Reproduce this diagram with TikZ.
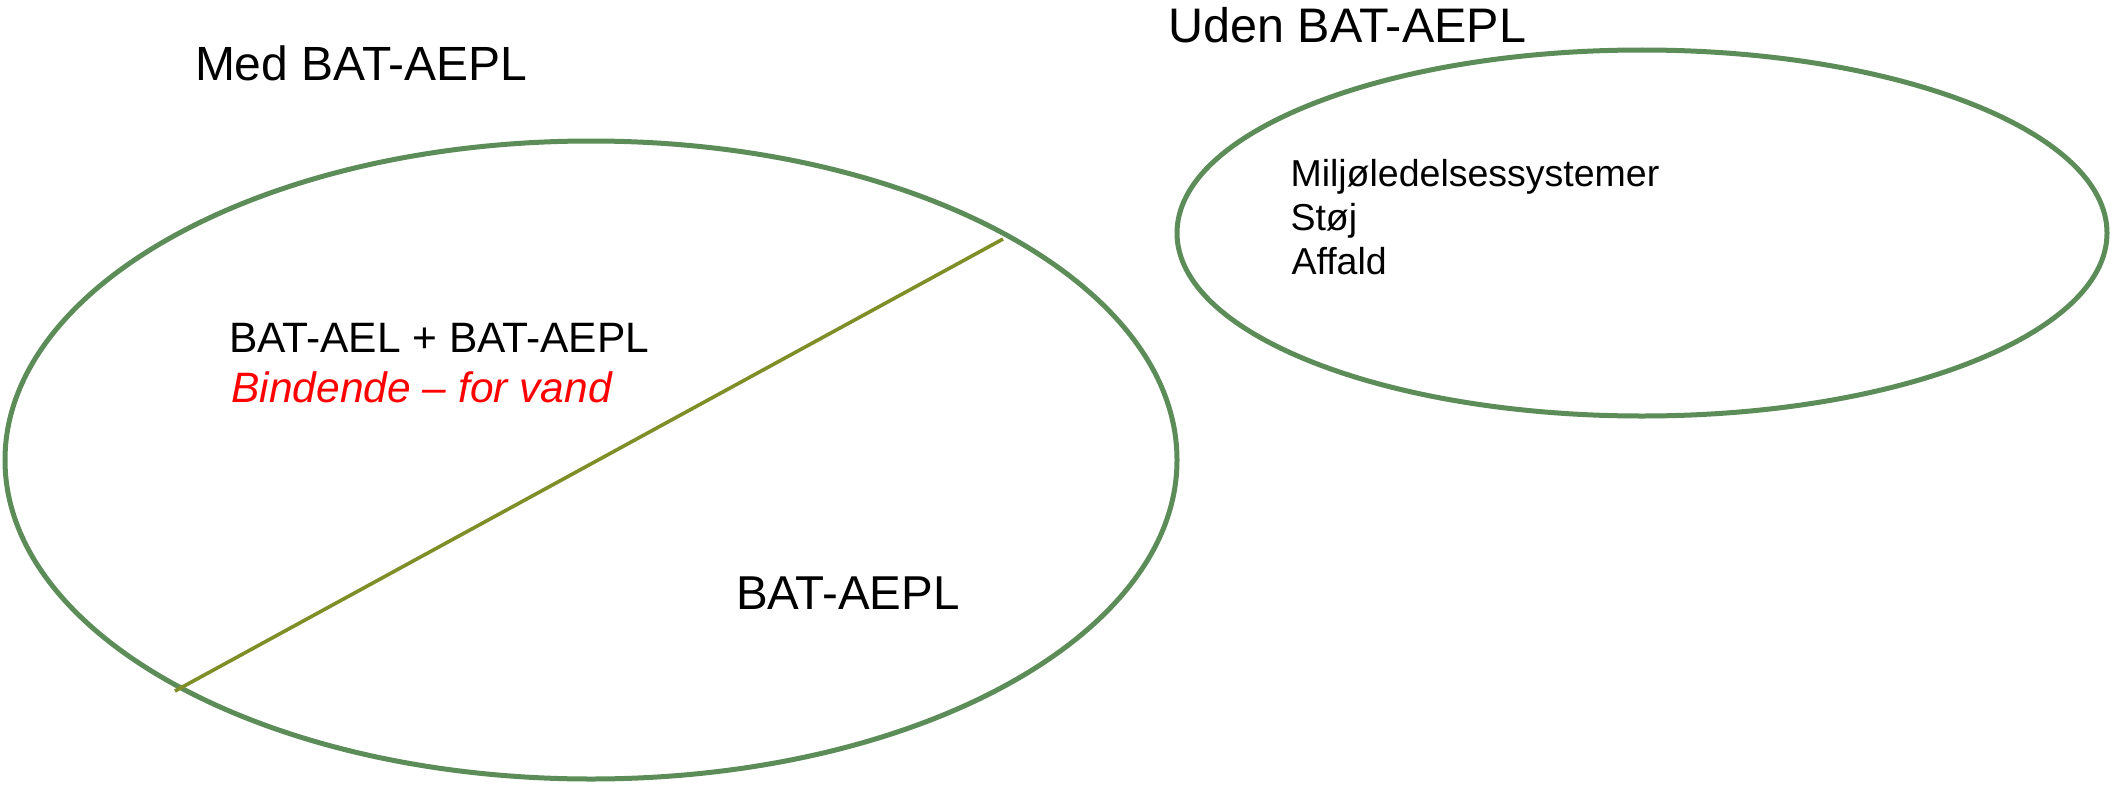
\documentclass[tikz,border=0pt]{standalone}
\usepackage{fontspec}
\setmainfont{Liberation Sans}
\usetikzlibrary{shapes.geometric}
\definecolor{ellgreen}{RGB}{92,140,88}
\definecolor{diagolive}{RGB}{128,142,40}
\begin{document}
\begin{tikzpicture}[x=1pt,y=-1pt,
  ring/.style={ellipse, draw=ellgreen, line width=5pt, inner sep=0pt, outer sep=0pt},
  divider/.style={draw=diagolive, line width=3.6pt},
  lbl/.style={anchor=base west, inner sep=0pt, outer sep=0pt, text=black},
  big/.style={lbl, font=\fontsize{48}{56}\selectfont},
  mid/.style={lbl, font=\fontsize{42.5}{50}\selectfont},
  small/.style={lbl, font=\fontsize{37.5}{44}\selectfont}]
\useasboundingbox (0,0) rectangle (2111,784);
\node[ring, minimum width=1172pt, minimum height=638pt] (withE) at (591,460) {};
\node[ring, minimum width=930pt, minimum height=366pt] (withoutE) at (1642,233) {};
\coordinate (dA) at (175,691);
\coordinate (dB) at (1003,239);
\draw[divider] (dA) -- (dB);
\node[big] (med) at (195,81) {Med BAT-AEPL};
\node[big, font=\fontsize{48.5}{56}\selectfont] (uden) at (1168.5,42.5) {Uden BAT-AEPL};
\node[mid] (ael) at (229,352.5) {BAT-AEL + BAT-AEPL};
\node[mid, text=red, font=\fontsize{42.5}{50}\selectfont\itshape] (bind) at (231.5,402.5) {Bindende – for vand};
\node[big, font=\fontsize{47.5}{56}\selectfont] (aepl) at (736,609) {BAT-AEPL};
\node[small] (milj) at (1290.5,186) {Miljøledelsessystemer};
\node[small] (stoj) at (1290.5,230) {Støj};
\node[small] (aff) at (1291.5,274) {Affald};
\end{tikzpicture}
\end{document}
